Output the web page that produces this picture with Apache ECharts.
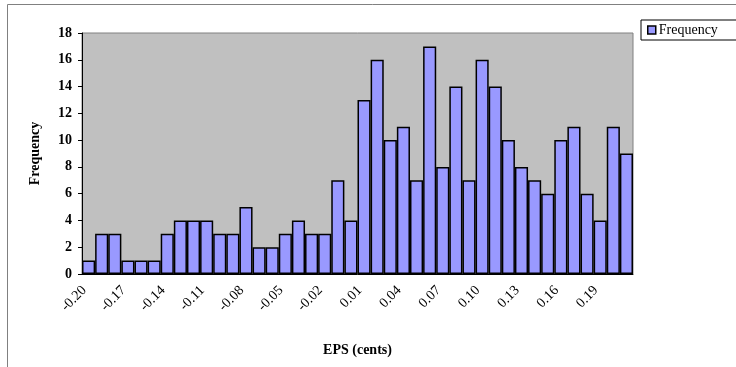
<!DOCTYPE html>
<html><head><meta charset="utf-8">
<script src="https://cdn.jsdelivr.net/npm/echarts@6/dist/echarts.min.js"></script>
<style>html,body{margin:0;padding:0;background:#fff}#c{width:736px;height:367px}</style>
</head><body><div id="c"></div>
<script>
const categories = ["-0.20","-0.19","-0.18","-0.17","-0.16","-0.15","-0.14","-0.13","-0.12","-0.11","-0.10","-0.09","-0.08","-0.07","-0.06","-0.05","-0.04","-0.03","-0.02","-0.01","0.00","0.01","0.02","0.03","0.04","0.05","0.06","0.07","0.08","0.09","0.10","0.11","0.12","0.13","0.14","0.15","0.16","0.17","0.18","0.19","0.20","0.21"];
const frequency = [1,3,3,1,1,1,3,4,4,4,3,3,5,2,2,3,4,3,3,7,4,13,16,10,11,7,17,8,14,7,16,14,10,8,7,6,10,11,6,4,11,9];
const yTicks = {min:0, max:18, interval:2};

const serif = '"Liberation Serif","DejaVu Serif",serif';
const chart = echarts.init(document.getElementById('c'), null, {renderer:'canvas'});
chart.setOption({
  animation:false,
  backgroundColor:'#fff',
  graphic:[{type:'rect', shape:{x:7.5,y:4.5,width:800,height:400}, style:{fill:'none',stroke:'#808080',lineWidth:1}, z:-10}],
  legend:{
    left:641, top:20, orient:'vertical',
    itemWidth:8, itemHeight:8, itemGap:0,
    borderColor:'#000', borderWidth:1, padding:[3,40,3,6],
    backgroundColor:'#fff',
    icon:'rect',
    textStyle:{fontFamily:serif, fontSize:14, color:'#000', padding:[0,0,0,-2]},
    itemStyle:{borderColor:'#000', borderWidth:1.5},
    data:['Frequency']
  },
  grid:{left:82, right:103, top:33, bottom:93, show:true, backgroundColor:'#C0C0C0', borderColor:'#808080', borderWidth:1},
  xAxis:{
    type:'category', data:categories,
    name:'EPS (cents)', nameLocation:'middle', nameGap:69,
    nameTextStyle:{fontFamily:serif, fontSize:14, fontWeight:'bold', color:'#000'},
    axisLine:{lineStyle:{color:'#000'}},
    axisTick:{interval:0, length:5, lineStyle:{color:'#000'}},
    axisLabel:{interval:2, rotate:45, fontFamily:serif, fontSize:14, color:'#000', margin:10, padding:[0,6,0,0]},
    splitLine:{show:false}
  },
  yAxis:{
    type:'value', min:yTicks.min, max:yTicks.max, interval:yTicks.interval,
    name:'Frequency', nameLocation:'middle', nameGap:40, nameRotate:90,
    nameTextStyle:{fontFamily:serif, fontSize:14, fontWeight:'bold', color:'#000'},
    axisLine:{show:true, lineStyle:{color:'#000'}},
    axisTick:{show:true, length:4, lineStyle:{color:'#000'}},
    axisLabel:{fontFamily:serif, fontSize:14, fontWeight:'bold', color:'#000', margin:10},
    splitLine:{show:false}
  },
  series:[{
    name:'Frequency', type:'bar', data:frequency,
    barCategoryGap:'0%',
    itemStyle:{color:'#9999FF', borderColor:'#000', borderWidth:1.5}
  }]
});
</script></body></html>
